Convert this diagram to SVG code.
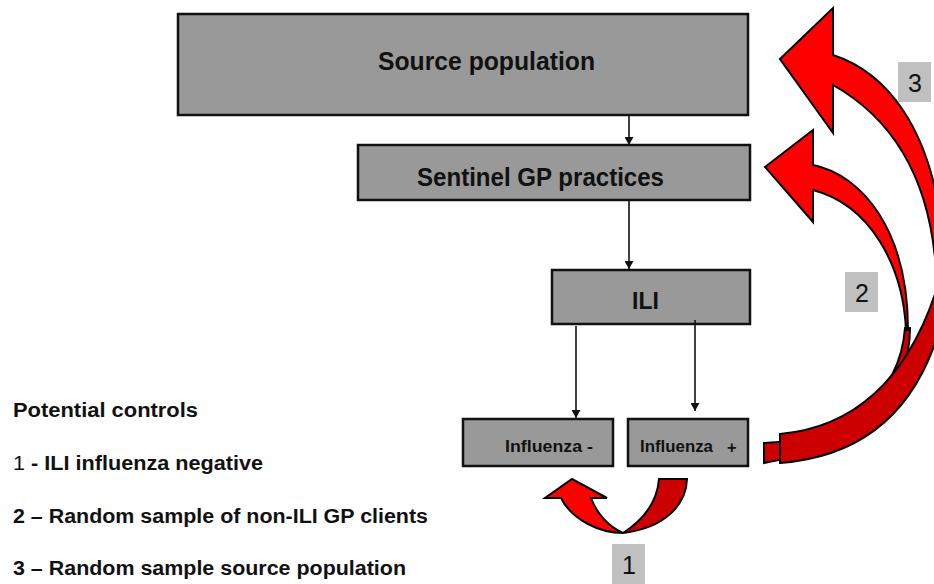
<svg xmlns="http://www.w3.org/2000/svg" width="934" height="584" viewBox="0 0 934 584">
  <style>
    .box { fill: #999999; stroke: #111111; stroke-width: 2.5; }
    .tag { fill: #c0c0c0; }
    .lbl { font-family: "Liberation Sans", Arial, sans-serif; font-weight: bold; fill: #111111; }
    .num { font-family: "Liberation Sans", Arial, sans-serif; font-size: 25px; fill: #111111; text-anchor: middle; }
    .legend { font-family: "Liberation Sans", Arial, sans-serif; font-weight: bold; font-size: 20px; fill: #111111; }
    .link { stroke: #111111; stroke-width: 1.6; fill: none; marker-end: url(#tip); }
    .front { fill: #ff0000; stroke: #000000; stroke-width: 2; stroke-linejoin: miter; }
    .back { fill: #cc0000; stroke: #000000; stroke-width: 2; stroke-linejoin: miter; }
  </style>
  <defs>
    <marker id="tip" markerWidth="8" markerHeight="9" refX="8" refY="4.5" orient="auto" markerUnits="userSpaceOnUse">
      <path d="M0,0 L8,4.5 L0,9 Z" fill="#111111"/>
    </marker>
  </defs>

  <rect width="934" height="584" fill="#ffffff"/>

  <!-- Nodes -->
  <g id="source-population">
    <rect class="box" x="178" y="14" width="570" height="101"/>
    <text class="lbl" x="378" y="70" font-size="26" textLength="217" lengthAdjust="spacingAndGlyphs">Source population</text>
  </g>
  <g id="sentinel-gp">
    <rect class="box" x="358" y="145" width="392" height="55"/>
    <text class="lbl" x="417" y="186" font-size="26" textLength="247" lengthAdjust="spacingAndGlyphs">Sentinel GP practices</text>
  </g>
  <g id="ili">
    <rect class="box" x="552" y="270" width="198" height="54"/>
    <text class="lbl" x="632" y="309" font-size="23">ILI</text>
  </g>
  <g id="influenza-neg">
    <rect class="box" x="463" y="419" width="150" height="47"/>
    <text class="lbl" x="505" y="452" font-size="16.5" textLength="88" lengthAdjust="spacingAndGlyphs">Influenza -</text>
  </g>
  <g id="influenza-pos">
    <rect class="box" x="628" y="419" width="120" height="47"/>
    <text class="lbl" x="640" y="452" font-size="16.5" textLength="73" lengthAdjust="spacingAndGlyphs">Influenza</text>
    <text class="lbl" x="727" y="453" font-size="16.5">+</text>
  </g>

  <!-- Connectors -->
  <g id="connectors">
    <line class="link" x1="629" y1="115" x2="629" y2="145"/>
    <line class="link" x1="629" y1="200" x2="629" y2="269"/>
    <line class="link" x1="576" y1="326" x2="576" y2="418"/>
    <line class="link" x1="695" y1="320" x2="695" y2="411"/>
  </g>

  <!-- Curved control arrows -->
  <g id="arrow-2">
    <path class="back" d="M764,443 C845,440 900,395 905,328 L910,328 C910,385 870,445 764,463 Z"/>
  </g>
  <g id="arrow-3">
    <path class="back" d="M780,434 C845,428 905,390 938,285 L955,280 L950,280 C935,385 885,455 780,463 Z"/>
  </g>
  <g id="arrow-2-head">
    <path class="front" d="M765,167 L813,130 L813,165 C862,175 908,230 908,330 L906,330 C903,265 870,205 813,190 L813,222 Z"/>
  </g>
  <g id="arrow-3-head">
    <path class="front" d="M780,59 L833,8 L833,55 C885,72 930,125 942,230 L936,270 C930,180 895,120 833,85 L833,133 Z"/>
  </g>
  <g id="arrow-1">
    <path class="back" d="M659,479 L687,479 C686,505 665,528 623,533 C640,522 657,505 659,479 Z"/>
    <path class="front" d="M623,533 C600,533 572,520 561,498 L545,498 L572,479 L607,498 L591,498 C597,514 609,527 623,533 Z"/>
  </g>

  <!-- Number tags -->
  <g id="tag-1">
    <rect class="tag" x="612" y="544" width="33" height="40"/>
    <text class="num" x="629" y="574">1</text>
  </g>
  <g id="tag-2">
    <rect class="tag" x="845" y="272" width="33" height="40"/>
    <text class="num" x="862" y="302">2</text>
  </g>
  <g id="tag-3">
    <rect class="tag" x="898" y="62" width="33" height="40"/>
    <text class="num" x="915" y="92">3</text>
  </g>

  <!-- Legend -->
  <g id="legend">
    <text class="legend" x="13" y="417" textLength="185" lengthAdjust="spacingAndGlyphs">Potential controls</text>
    <text class="legend" x="13" y="470" textLength="250" lengthAdjust="spacingAndGlyphs"><tspan font-weight="normal">1</tspan> - ILI influenza negative</text>
    <text class="legend" x="13" y="523" textLength="415" lengthAdjust="spacingAndGlyphs">2 – Random sample of non-ILI GP clients</text>
    <text class="legend" x="13" y="575" textLength="393" lengthAdjust="spacingAndGlyphs">3 – Random sample source population</text>
  </g>
</svg>
